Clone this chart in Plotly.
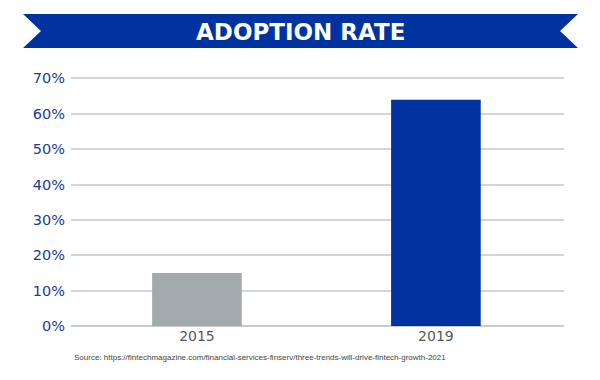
import plotly.graph_objects as go

years = ["2015", "2019"]
adoption = [15, 64]
bar_colors = ["#a2aaad", "#0033a0"]
y_ticks = [0, 10, 20, 30, 40, 50, 60, 70]
y_tick_labels = [f"{v}%" for v in y_ticks]
title_text = "ADOPTION RATE"
source_text = "Source: https://fintechmagazine.com/financial-services-finserv/three-trends-will-drive-fintech-growth-2021"

# page body has an 8px default margin; the figure is sized to fit the window
OFF = 8
W, H = 592, 372
ML, MT = 71 - OFF, 77 - OFF
MR = W - (564 - OFF)
MB = H - (326 - OFF)

fig = go.Figure(go.Bar(
    x=years, y=adoption, marker=dict(color=bar_colors, line=dict(width=0)),
    width=0.375, hoverinfo="skip",
))

fig.update_layout(
    width=W, height=H,
    margin=dict(l=ML, r=MR, t=MT, b=MB, autoexpand=False),
    paper_bgcolor="white", plot_bgcolor="white",
    showlegend=False,
    xaxis=dict(
        type="category", range=[-0.527, 1.536],
        showgrid=False, showline=False, zeroline=False, ticks="",
        tickfont=dict(family="DejaVu Sans", size=14, color="#555a5e"),
    ),
    yaxis=dict(
        range=[0, 70.4], tickvals=y_ticks, ticktext=y_tick_labels,
        showgrid=True, gridcolor="#d3d6d7", gridwidth=1.5,
        zeroline=True, zerolinecolor="#c8cbcc", zerolinewidth=1.5,
        showline=False, ticks="", ticklabelstandoff=5,
        tickfont=dict(family="DejaVu Sans", size=14.5, color="#1a3a9c"),
    ),
)

pw, ph = W - ML - MR, H - MT - MB
def to_paper(x, y):
    # x, y are pixel positions in the browser window
    return (x - OFF - ML) / pw, (H - MB - (y - OFF)) / ph

banner = [(23, 14), (578, 14), (560, 31), (578, 48), (23, 48), (41, 31)]
pts = [to_paper(x, y) for x, y in banner]
path = "M " + " L ".join(f"{x:.5f},{y:.5f}" for x, y in pts) + " Z"
fig.add_shape(type="path", xref="paper", yref="paper", path=path,
              fillcolor="#0033a0", line=dict(width=0), layer="above")

tx, ty = to_paper(300, 32)
fig.add_annotation(x=tx, y=ty, xref="paper", yref="paper", text=f"<b>{title_text}</b>",
                   showarrow=False, xanchor="center", yanchor="middle",
                   font=dict(family="DejaVu Sans", size=23, color="white"))

sx, sy = to_paper(72, 357)
fig.add_annotation(x=sx, y=sy, xref="paper", yref="paper", text=source_text,
                   showarrow=False, xanchor="left", yanchor="middle",
                   font=dict(family="Liberation Sans Narrow, Liberation Sans", size=8, color="#444"))

fig.write_html("out.html")
